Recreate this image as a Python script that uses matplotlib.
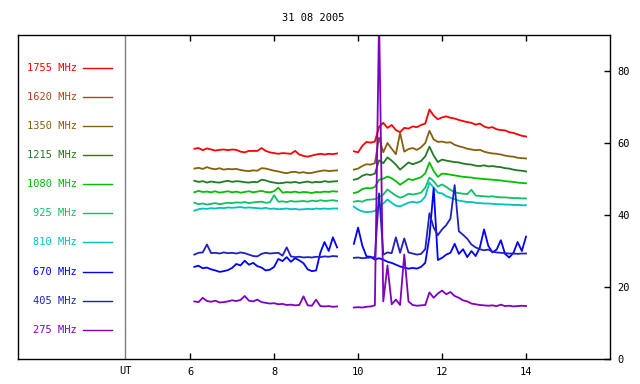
import numpy as np
import matplotlib
matplotlib.use("Agg")
import matplotlib.pyplot as plt
from matplotlib.transforms import blended_transform_factory

# ---------------- data ----------------
title = "31 08 2005"
labels = ["1755 MHz", "1620 MHz", "1350 MHz", "1215 MHz", "1080 MHz",
          "925 MHz", "810 MHz", "670 MHz", "405 MHz", "275 MHz"]
colors = ["#ff0000", "#c23e14", "#86600e", "#227a22", "#00c000",
          "#10c068", "#00c0c0", "#0000ff", "#2020c0", "#8000c0"]
xticks = [6, 8, 10, 12, 14]
yticks = [0, 20, 40, 60, 80]
ut_pos = 4.46

# time grids (hours UT) of the two observing segments
t1 = np.round(np.arange(6.1, 9.501, 0.1), 2)     # 35 samples
t2 = np.round(np.arange(9.9, 14.001, 0.1), 2)    # 42 samples

f1755_a = [58.4, 58.6, 58.0, 58.5, 58.2, 57.9, 58.1, 58.2, 58.0, 58.2, 58.1, 57.6, 57.4, 57.8, 57.8,
           57.8, 58.6, 57.8, 57.4, 57.2, 57.0, 57.2, 57.1, 57.0, 57.8, 56.8, 56.4, 56.2, 56.5, 56.8,
           57.0, 56.8, 57.0, 56.9, 57.1]
f1755_b = [57.7, 57.4, 59.2, 60.3, 60.1, 60.4, 64.5, 65.6, 64.2, 65.0, 63.6, 63.0, 64.2, 64.0, 64.6,
           64.4, 65.0, 65.4, 69.3, 67.6, 66.6, 67.1, 67.4, 67.0, 66.8, 66.4, 66.1, 65.8, 65.6, 65.1,
           65.4, 64.6, 64.2, 64.4, 63.8, 63.6, 63.5, 63.0, 62.8, 62.4, 62.0, 61.8]

f1350_a = [52.9, 53.1, 52.8, 53.3, 52.9, 52.7, 53.0, 52.6, 52.8, 52.7, 52.8, 52.5, 52.3, 52.2, 52.4,
           52.3, 53.0, 52.9, 52.6, 52.3, 52.1, 51.8, 51.6, 51.9, 52.0, 51.7, 51.9, 51.6, 51.7, 52.0,
           52.2, 52.4, 52.2, 52.3, 52.4]
f1350_b = [52.6, 52.9, 53.6, 54.1, 54.0, 54.4, 61.5, 57.4, 60.0, 58.4, 56.9, 62.8, 57.6, 58.3, 58.6,
           58.1, 58.8, 60.0, 63.4, 61.0, 60.3, 60.4, 60.1, 60.2, 59.5, 59.1, 58.8, 58.4, 58.2, 58.0,
           58.1, 57.6, 57.3, 57.1, 57.0, 56.8, 56.5, 56.3, 56.2, 55.9, 55.8, 55.7]

f1215_a = [49.5, 49.2, 49.4, 49.0, 49.3, 49.1, 49.0, 49.3, 49.5, 49.2, 49.4, 49.3, 49.1, 49.0, 49.2,
           49.1, 49.8, 49.6, 49.2, 49.0, 48.8, 48.9, 49.1, 49.0, 49.2, 48.9, 49.1, 49.3, 49.0, 49.2,
           49.1, 49.4, 49.2, 49.3, 49.4]
f1215_b = [49.8, 50.1, 50.9, 51.3, 51.1, 51.5, 55.2, 54.4, 56.0, 55.1, 54.0, 52.6, 53.6, 54.6, 54.1,
           54.5, 55.0, 56.3, 59.0, 56.5, 54.7, 55.4, 55.1, 54.9, 54.7, 54.6, 54.3, 54.1, 54.0, 53.7,
           53.6, 53.8, 53.5, 53.6, 53.4, 53.3, 53.0, 52.9, 52.6, 52.4, 52.3, 52.1]

f1080_a = [46.3, 46.7, 46.4, 46.5, 46.3, 46.6, 46.2, 46.4, 46.6, 46.3, 46.5, 46.2, 46.4, 46.6, 46.3,
           46.5, 46.7, 46.4, 46.3, 46.6, 47.6, 46.2, 46.4, 46.3, 46.5, 46.2, 46.4, 46.3, 46.1, 46.4,
           46.3, 46.5, 46.4, 46.6, 46.5]
f1080_b = [46.1, 46.4, 47.2, 47.5, 47.4, 47.8, 49.8, 50.1, 50.7, 50.2, 49.4, 48.4, 49.2, 50.0, 49.7,
           50.1, 50.5, 51.6, 54.6, 52.2, 50.6, 51.5, 51.4, 51.2, 51.0, 50.8, 50.6, 50.5, 50.4, 50.2,
           50.1, 50.0, 49.9, 49.8, 49.7, 49.6, 49.4, 49.3, 49.2, 49.0, 48.9, 48.8]

f925_a = [43.4, 43.0, 43.2, 42.9, 43.1, 43.3, 43.0, 43.2, 43.4, 43.3, 43.5, 43.4, 43.6, 43.3, 43.5,
          43.6, 43.7, 43.4, 43.5, 45.5, 43.7, 43.8, 43.6, 43.9, 43.7, 43.8, 43.9, 43.7, 44.0, 43.8,
          44.1, 43.9, 44.0, 44.1, 43.9]
f925_b = [43.7, 43.9, 43.7, 44.2, 44.3, 44.4, 45.0, 45.7, 47.1, 46.2, 45.4, 44.8, 45.2, 45.9, 45.7,
          45.9, 46.2, 47.6, 50.4, 49.4, 47.9, 48.5, 47.8, 47.0, 46.3, 46.1, 45.9, 45.8, 47.0, 45.4,
          45.3, 45.2, 45.1, 45.2, 45.0, 44.9, 44.9, 44.8, 44.7, 44.7, 44.6, 44.6]

f810_a = [41.2, 41.6, 41.8, 41.7, 41.9, 41.8, 42.0, 41.9, 42.1, 42.0, 42.1, 42.2, 42.0, 42.1, 42.0,
          41.9, 41.8, 42.0, 41.7, 41.8, 41.6, 41.7, 41.8, 41.6, 41.7, 41.5, 41.6, 41.7, 41.6, 41.8,
          41.7, 41.8, 41.7, 41.8, 41.8]
f810_b = [42.3, 41.5, 41.0, 40.8, 40.9, 41.1, 42.4, 43.2, 44.3, 43.4, 42.6, 42.4, 42.9, 43.4, 43.7,
          43.4, 43.8, 45.1, 49.0, 47.6, 46.2, 46.0, 45.2, 44.8, 44.4, 44.0, 43.8, 43.6, 43.6, 43.4,
          43.3, 43.2, 43.2, 43.1, 43.0, 43.0, 42.9, 42.9, 42.8, 42.8, 42.7, 42.7]

f670_a = [25.6, 25.9, 25.2, 25.4, 24.9, 24.6, 24.2, 24.4, 24.7, 25.3, 26.4, 26.0, 27.3, 26.2, 26.7,
          25.8, 25.4, 24.6, 24.8, 25.6, 27.8, 27.2, 28.3, 27.0, 28.0, 27.4, 26.6, 24.9, 24.4, 24.6,
          29.5, 32.5, 30.0, 33.8, 31.0]
f670_b = [32.0, 36.5, 31.5, 28.5, 28.4, 27.6, 28.0, 27.6, 27.0, 26.7, 26.2, 25.7, 25.4, 25.1, 25.3,
          25.1, 25.6, 26.7, 34.0, 47.5, 27.5, 28.1, 29.0, 29.5, 32.0, 29.2, 30.5, 28.3, 30.0, 28.6,
          31.0, 36.0, 31.5, 29.6, 30.4, 33.0, 29.2, 28.2, 29.5, 32.5, 30.0, 34.0]

f405_a = [29.0, 29.5, 29.6, 31.8, 29.4, 29.5, 29.3, 29.6, 29.4, 29.5, 29.3, 29.6, 29.4, 29.0, 28.6,
          28.5, 29.2, 29.5, 29.3, 29.4, 29.5, 28.7, 31.0, 28.5, 28.3, 28.4, 28.2, 28.3, 28.2, 28.4,
          28.3, 28.5, 28.4, 28.6, 28.5]
f405_b = [28.1, 28.2, 28.0, 28.1, 28.2, 28.3, 46.0, 29.0, 29.6, 29.4, 33.8, 29.5, 33.5, 29.6, 29.3,
          29.0, 29.2, 30.5, 40.5, 36.5, 34.4, 36.0, 37.2, 39.0, 48.3, 35.5, 34.5, 33.4, 31.8, 31.0,
          30.5, 30.2, 30.4, 29.8, 29.6, 29.5, 29.4, 29.3, 29.3, 29.2, 29.3, 29.3]

f275_a = [16.0, 15.8, 17.0, 16.1, 15.9, 16.2, 15.7, 15.8, 16.0, 16.3, 16.1, 16.4, 17.5, 16.2, 16.0,
          16.5, 15.8, 15.6, 15.4, 15.5, 15.2, 15.3, 15.0, 15.1, 14.9, 15.0, 17.4, 14.9, 14.8, 16.5,
          14.7, 14.6, 14.7, 14.5, 14.6]
f275_b = [14.3, 14.4, 14.3, 14.5, 14.6, 14.9, 95.0, 16.0, 26.0, 15.2, 16.5, 15.0, 29.0, 16.0, 15.0,
          14.8, 14.9, 15.0, 18.5, 17.0, 18.2, 19.0, 18.0, 18.6, 17.5, 17.0, 16.3, 16.0, 15.4, 15.2,
          15.0, 14.9, 14.8, 14.9, 14.7, 15.1, 14.7, 14.8, 14.6, 14.7, 14.8, 14.7]

series = [
    (f1755_a, f1755_b, colors[0]),
    (f1350_a, f1350_b, colors[2]),
    (f1215_a, f1215_b, colors[3]),
    (f1080_a, f1080_b, colors[4]),
    (f925_a, f925_b, colors[5]),
    (f810_a, f810_b, colors[6]),
    (f670_a, f670_b, colors[7]),
    (f405_a, f405_b, colors[8]),
    (f275_a, f275_b, colors[9]),
]

# ---------------- figure ----------------
mono = "DejaVu Sans Mono"
fig = plt.figure(figsize=(6.4, 3.84), dpi=100)
ax = fig.add_axes([18 / 640, 25 / 384, 592 / 640, 324 / 384])
ax.set_xlim(1.9, 16)
ax.set_ylim(0, 90)

for a, b, c in series:
    ax.plot(t1, a, color=c, lw=1.3)
    ax.plot(t2, b, color=c, lw=1.3)

ax.axvline(ut_pos, color="#808080", lw=1)

ax.set_xticks(xticks)
ax.set_xticklabels([str(v) for v in xticks], fontfamily=mono)
ax.tick_params(axis="x", direction="in", top=True, bottom=True, length=4,
               width=1, labelsize=7.5, pad=6)
ax.yaxis.tick_right()
ax.set_yticks(yticks)
ax.set_yticklabels([str(v) for v in yticks], fontfamily=mono)
ax.tick_params(axis="y", direction="in", left=False, right=True, length=4,
               width=1, labelsize=7.5, pad=5)
for s in ax.spines.values():
    s.set_linewidth(1)

trans = blended_transform_factory(ax.transData, ax.transAxes)
ax.text(ut_pos, -0.037, "UT", transform=trans, ha="center", va="center",
        fontsize=7.5, fontfamily=mono)

for i, (lab, col) in enumerate(zip(labels, colors)):
    yf = 0.899 - i * 0.0899
    ax.text(3.30, yf, lab, transform=trans, ha="right", va="center",
            color=col, fontsize=7.5, fontfamily=mono)
    ax.plot([3.445, 4.136], [yf, yf], transform=trans, color=col, lw=1)

fig.text(313 / 640, 1 - 18 / 384, title, ha="center", va="center",
         fontsize=7.5, fontfamily=mono)

fig.savefig("out.png", dpi=100)
